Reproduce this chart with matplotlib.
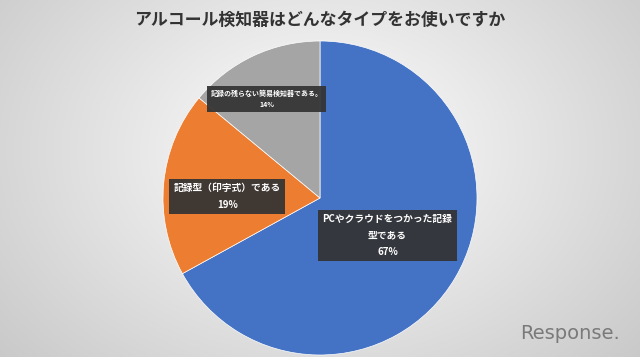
import numpy as np
import matplotlib.pyplot as plt

plt.rcParams['font.family'] = ['Noto Sans CJK JP', 'DejaVu Sans']

title = 'アルコール検知器はどんなタイプをお使いですか'
labels = ['PCやクラウドをつかった記録\n型である', '記録型（印字式）である', '記録の残らない簡易検知器である。']
values = [67, 19, 14]
colors = ['#4472C4', '#ED7D31', '#A5A5A5']

fig = plt.figure(figsize=(6.4, 3.57), dpi=100)

# radial gradient background
bg = fig.add_axes([0, 0, 1, 1])
yy, xx = np.mgrid[0:357, 0:640]
r = np.sqrt(((xx - 320) / 400.0) ** 2 + ((yy - 150) / 300.0) ** 2)
shade = np.clip(1.0 - 0.2 * r, 0, 1)
bg.imshow(np.dstack([shade] * 3), aspect='auto', extent=[0, 640, 357, 0])
bg.set_axis_off()

# pie: centre ~(320, 198) px, radius ~157 px
ax = fig.add_axes([163 / 640, 2 / 357, 314 / 640, 314 / 357])
wedges, _ = ax.pie(values, colors=colors, startangle=90, counterclock=False,
                   wedgeprops=dict(edgecolor='white', linewidth=0.5))
ax.set_xlim(-1, 1)
ax.set_ylim(-1, 1)
ax.set_aspect('equal')

label_pos = [(0.43, -0.24), (-0.59, 0.01), (-0.34, 0.63)]
label_sizes = [7.0, 7.0, 5.0]
label_spacing = [1.8, 1.8, 1.7]
for lab, v, (x, y), fs, ls in zip(labels, values, label_pos, label_sizes, label_spacing):
    ax.text(x, y, f'{lab}\n{v}%', ha='center', va='center', color='white',
            fontsize=fs, fontweight='bold', linespacing=ls,
            bbox=dict(boxstyle='square,pad=0.45', fc='#333333', ec='none', alpha=0.93))

fig.text(0.5, 0.944, title, ha='center', va='center', fontsize=12.2,
         fontweight='bold', color='#333333')
fig.text(0.89, 0.065, 'Response.', ha='center', va='center', fontsize=14,
         color='#7a7a7a', family='DejaVu Sans')

fig.savefig('out.png', dpi=100)
